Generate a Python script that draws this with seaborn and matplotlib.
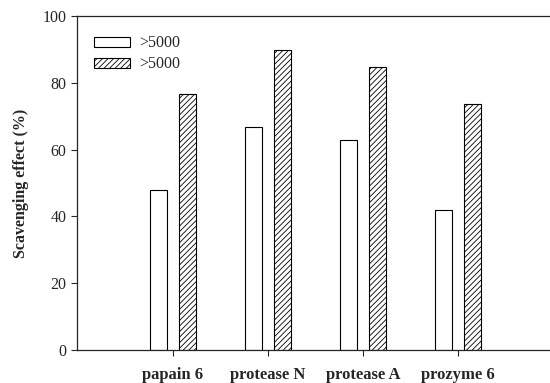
import pandas as pd
import matplotlib
matplotlib.use('Agg')
import matplotlib.pyplot as plt
import seaborn as sns

# dados
enzimas = ['papain 6', 'protease N', 'protease A', 'prozyme 6']
serie_branca = [47.9, 66.7, 63.0, 41.8]
serie_hachurada = [76.6, 89.9, 84.9, 73.6]
rotulos = ['>5000', '>5000']

df = pd.DataFrame({
    'enzima': enzimas * 2,
    'grupo': ['a'] * 4 + ['b'] * 4,
    'valor': serie_branca + serie_hachurada,
})

sns.set_style('ticks')
plt.rcParams['font.family'] = ['Liberation Serif', 'DejaVu Serif']
plt.rcParams['hatch.linewidth'] = 0.6

fig = plt.figure(figsize=(5.5, 3.83), dpi=100)
ax = fig.add_axes([0.14, 0.086, 0.86, 0.872])

sns.barplot(data=df, x='enzima', y='valor', hue='grupo', order=enzimas,
            palette=['white', 'white'], edgecolor='black', linewidth=0.8,
            width=0.62, gap=0.42, legend=False, ax=ax)

# hachura na segunda serie
for p in ax.containers[1]:
    p.set_hatch('//////')

ax.legend(ax.containers, rotulos, loc='upper left', bbox_to_anchor=(0.005, 0.985),
          frameon=False, fontsize=11.5, handlelength=2.3, handleheight=0.6,
          handletextpad=0.55, labelspacing=0.3)

ax.set_xlim(-1.01, 3.97)
ax.set_ylim(0, 100)
ax.set_yticks([0, 20, 40, 60, 80, 100])
ax.set_xlabel('')
ax.set_ylabel('Scavenging effect (%)', fontsize=11.5, fontweight='bold', labelpad=10)
ax.tick_params(axis='y', labelsize=11.5, direction='out', length=4, width=0.8)
ax.tick_params(axis='x', labelsize=12, direction='out', length=4, width=0.8, pad=8)
for t in ax.get_xticklabels():
    t.set_fontweight('bold')
for s in ['left', 'bottom', 'top']:
    ax.spines[s].set_linewidth(0.9)
    ax.spines[s].set_visible(True)
ax.spines['right'].set_visible(False)

fig.savefig('out.png', dpi=100)
